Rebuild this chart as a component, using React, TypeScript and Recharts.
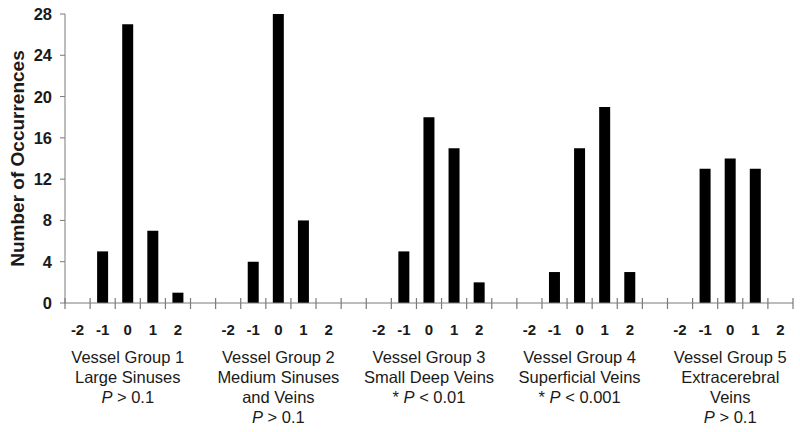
import React from 'react';
import { BarChart, Bar, XAxis, YAxis } from 'recharts';

const levels = ['-2', '-1', '0', '1', '2'];
const group1 = [0, 5, 27, 7, 1];
const group2 = [0, 4, 28, 8, 0];
const group3 = [0, 5, 18, 15, 2];
const group4 = [0, 3, 15, 19, 3];
const group5 = [0, 13, 14, 13, 0];
const groupValues = [group1, group2, group3, group4, group5];

const groupTitles = [
  ['Vessel Group 1', 'Large Sinuses'],
  ['Vessel Group 2', 'Medium Sinuses', 'and Veins'],
  ['Vessel Group 3', 'Small Deep Veins'],
  ['Vessel Group 4', 'Superficial Veins'],
  ['Vessel Group 5', 'Extracerebral', 'Veins'],
];
const pValues = ['> 0.1', '> 0.1', '< 0.01', '< 0.001', '> 0.1'];
const significant = [false, false, true, true, false];
const yTicks = [0, 4, 8, 12, 16, 20, 24, 28];

type Row = { key: string; level: string; group: number; pos: number; count: number | null };

// one slot per level, plus an empty slot between groups
const rows: Row[] = [];
groupValues.forEach((vals, g) => {
  if (g > 0) rows.push({ key: `gap${g}`, level: '', group: -1, pos: -1, count: null });
  vals.forEach((v, i) => rows.push({ key: `g${g}_${levels[i]}`, level: levels[i], group: g, pos: i, count: v }));
});

const W = 800;
const H = 432;
const LEFT = 65;
const RIGHT = 7;
const TOP = 14;
const XAXIS_H = 129;
const BAND = (W - LEFT - RIGHT) / rows.length;
const FONT = 'Arial, "Liberation Sans", sans-serif';
const AXIS = '#7a7a7a';
const INK = '#1a1a1a';

const XTick = (props: any) => {
  const { x, y, index } = props;
  const row = rows[index];
  const lines: React.ReactNode[] = [];
  if (row && row.pos === 2) {
    const g = row.group;
    groupTitles[g].forEach((t, i) => {
      lines.push(
        <text key={`t${i}`} x={x} y={y + 60 + i * 20} textAnchor="middle" fontSize={16.5} fill={INK} fontFamily={FONT}>
          {t}
        </text>
      );
    });
    const n = groupTitles[g].length;
    lines.push(
      <text key="p" x={x} y={y + 60 + n * 20} textAnchor="middle" fontSize={16.5} fill={INK} fontFamily={FONT}>
        {significant[g] ? '* ' : ''}
        <tspan fontStyle="italic">P</tspan>
        {` ${pValues[g]}`}
      </text>
    );
  }
  return (
    <g>
      <line x1={x - BAND / 2} x2={x - BAND / 2} y1={y - 5} y2={y + 6} stroke={AXIS} strokeWidth={1.2} />
      {index === rows.length - 1 && (
        <line x1={x + BAND / 2} x2={x + BAND / 2} y1={y - 5} y2={y + 6} stroke={AXIS} strokeWidth={1.2} />
      )}
      {row && row.level !== '' && (
        <text x={x} y={y + 32} textAnchor="middle" fontSize={15} fontWeight="bold" fill={INK} fontFamily={FONT}>
          {row.level}
        </text>
      )}
      {lines}
    </g>
  );
};

const YTick = (props: any) => {
  const { x, y, payload } = props;
  return (
    <text x={x} y={y} dy="0.36em" textAnchor="end" fontSize={16.5} fontWeight="bold" fill={INK} fontFamily={FONT}>
      {payload.value}
    </text>
  );
};

const YLabel = (props: any) => {
  const vb = props.viewBox || { x: 0, y: TOP, width: LEFT, height: 289 };
  const cx = 17;
  const cy = vb.y + vb.height / 2;
  return (
    <text
      x={cx}
      y={cy}
      transform={`rotate(-90 ${cx} ${cy})`}
      textAnchor="middle"
      dominantBaseline="central"
      fontSize={19}
      fontWeight="bold"
      fill={INK}
      fontFamily={FONT}
    >
      Number of Occurrences
    </text>
  );
};

export default function App() {
  return (
    <div style={{ position: 'absolute', left: 0, top: 0, width: W, height: H, background: '#fff' }}>
      <BarChart width={W} height={H} data={rows} margin={{ top: TOP, right: RIGHT, bottom: 0, left: 0 }} barSize={11}>
        <XAxis
          dataKey="key"
          interval={0}
          height={XAXIS_H}
          stroke={AXIS}
          tickLine={false}
          tickSize={0}
          tickMargin={0}
          tick={<XTick />}
        />
        <YAxis
          width={LEFT}
          domain={[0, 28]}
          ticks={yTicks}
          interval={0}
          stroke={AXIS}
          tickSize={5}
          tickMargin={8}
          tick={<YTick />}
          label={{ content: <YLabel /> }}
        />
        <Bar dataKey="count" fill="#000" isAnimationActive={false} />
      </BarChart>
    </div>
  );
}
